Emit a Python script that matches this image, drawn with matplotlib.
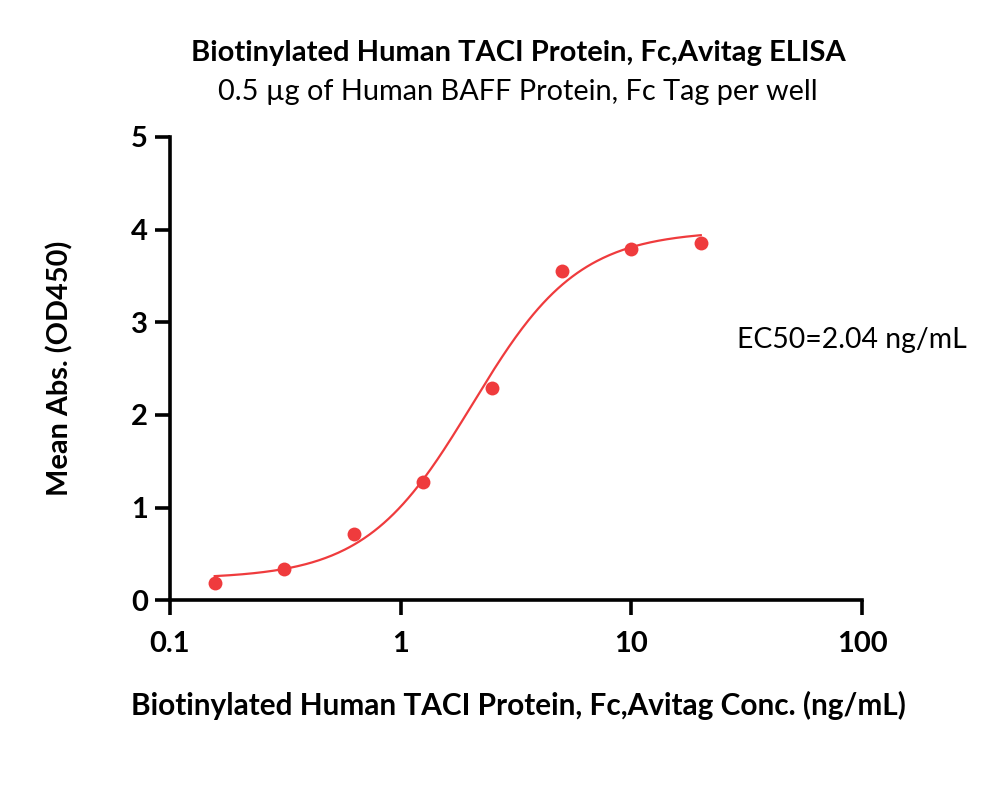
import numpy as np
import matplotlib
matplotlib.use("Agg")
import matplotlib.pyplot as plt
from matplotlib.ticker import FixedLocator, NullLocator

# ---------------- data ----------------
conc = [0.15625, 0.3125, 0.625, 1.25, 2.5, 5, 10, 20]      # ng/mL
od450 = [0.19, 0.34, 0.71, 1.28, 2.29, 3.55, 3.79, 3.85]   # mean abs.

# 4PL fit parameters (curve drawn by the software)
fit_bottom = 0.23
fit_top = 3.99
fit_ec50 = 2.04
fit_hill = 1.88

x_ticks = [0.1, 1, 10, 100]
x_ticklabels = ["0.1", "1", "10", "100"]
y_ticks = [0, 1, 2, 3, 4, 5]

title = "Biotinylated Human TACI Protein, Fc,Avitag ELISA"
subtitle = "0.5 \u00b5g of Human BAFF Protein, Fc Tag per well"
xlabel = "Biotinylated Human TACI Protein, Fc,Avitag Conc. (ng/mL)"
ylabel = "Mean Abs. (OD450)"
ec50_text = "EC50=2.04 ng/mL"

red = "#EF3B3D"

plt.rcParams['font.family'] = ['Lato', 'DejaVu Sans']

fig = plt.figure(figsize=(10, 7.96), dpi=100)
ax = fig.add_axes([0.170, 0.246, 0.692, 0.582])

# fitted curve between first and last point
xs = np.logspace(np.log10(conc[0]), np.log10(conc[-1]), 300)
ys = fit_bottom + (fit_top - fit_bottom) / (1 + (fit_ec50 / xs) ** fit_hill)
ax.plot(xs, ys, color=red, lw=1.6, zorder=2)
ax.plot(conc, od450, 'o', color=red, ms=10, mec='none', zorder=3)

ax.set_xscale('log')
ax.set_xlim(0.1, 100)
ax.set_ylim(0, 5)
ax.xaxis.set_major_locator(FixedLocator(x_ticks))
ax.xaxis.set_minor_locator(NullLocator())
ax.set_xticklabels(x_ticklabels)
ax.set_yticks(y_ticks)

for s in ['top', 'right']:
    ax.spines[s].set_visible(False)
for s in ['left', 'bottom']:
    ax.spines[s].set_linewidth(2.6)
ax.tick_params(width=2.6, length=11, labelsize=21, pad=5)
ax.tick_params(axis='x', pad=11)
for lab in ax.get_xticklabels() + ax.get_yticklabels():
    lab.set_fontweight('bold')

ax.text(0.819, 0.562, ec50_text, transform=ax.transAxes, ha='left', va='center',
        fontsize=20.4)

fig.text(0.518, 0.934, title, ha='center', va='center', fontsize=21, fontweight='bold')
fig.text(0.518, 0.884, subtitle, ha='center', va='center', fontsize=20.8)
fig.text(0.518, 0.114, xlabel, ha='center', va='center', fontsize=21.4, fontweight='bold')
fig.text(0.060, 0.537, ylabel, ha='center', va='center', rotation=90, fontsize=20.8,
         fontweight='bold')

fig.savefig("out.png", dpi=100)
